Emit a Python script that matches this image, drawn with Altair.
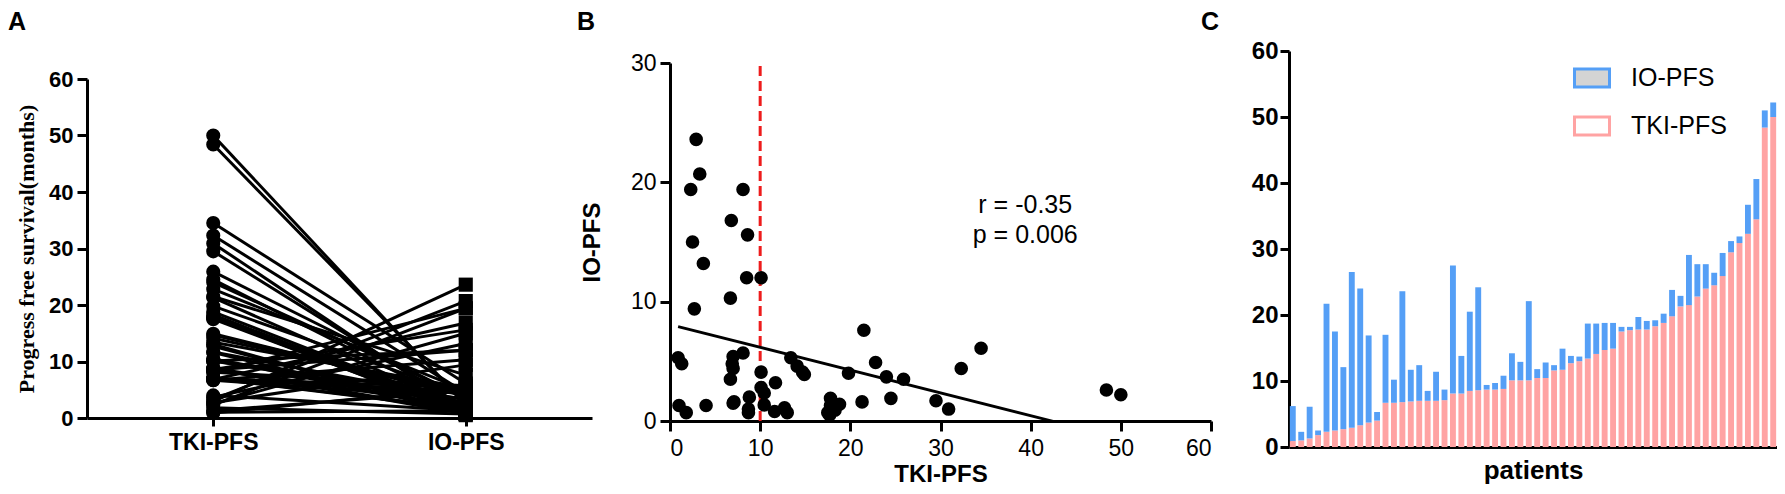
import altair as alt
import pandas as pd

# ---------------- data ----------------
tki_pfs = [0.9, 1.0, 1.3, 1.8, 2.3, 2.5, 2.7, 2.9, 3.3, 3.7, 4.0,
           6.7, 6.7, 6.8, 6.9, 7.0, 7.0, 7.0, 7.1,
           8.1, 8.1, 8.5, 8.6, 8.7, 8.7, 8.8,
           10.1, 10.1, 10.1, 10.45, 10.45, 11.6, 11.7, 12.7, 13.0,
           13.4, 14.1, 14.7, 14.9, 17.5, 17.7, 17.8, 17.8, 18.3, 18.8,
           19.8, 21.3, 21.5, 22.8, 24.0, 24.5, 25.9,
           29.5, 30.9, 32.3, 34.5, 48.4, 50.0]
io_pfs = [5.3, 1.3, 4.8, 0.7, 19.4, 15.0, 9.4, 23.6, 20.7, 13.2, 1.3,
          10.3, 3.5, 16.8, 4.8, 5.4, 1.5, 4.4, 1.6,
          19.4, 5.7, 12.0, 15.6, 0.7, 1.0, 2.0,
          4.1, 2.8, 12.0, 1.35, 2.35, 0.8, 3.2, 1.1, 0.7,
          5.3, 4.6, 4.1, 3.9, 0.7, 0.5, 1.9, 1.3, 0.9, 1.4,
          4.0, 1.6, 7.6, 4.9, 3.7, 1.9, 3.5,
          1.7, 1.0, 4.4, 6.1, 2.6, 2.2]
conditions = ["TKI-PFS", "IO-PFS"]
series = ["IO-PFS", "TKI-PFS"]
annotations = ["r = -0.35", "p = 0.006"]
threshold = [10]
a_ticks = [0, 10, 20, 30, 40, 50, 60]
b_xticks = [0, 10, 20, 30, 40, 50, 60]
b_yticks = [0, 10, 20, 30]

patient = list(range(1, len(tki_pfs) + 1))
wide = pd.DataFrame({"patient": patient, "tki": tki_pfs, "io": io_pfs})
paired = pd.DataFrame({
    "patient": patient + patient,
    "cond": [conditions[0]] * len(patient) + [conditions[1]] * len(patient),
    "months": tki_pfs + io_pfs,
})
stacked = pd.DataFrame({
    "patient": patient + patient,
    "series": [series[1]] * len(patient) + [series[0]] * len(patient),
    "start": [0.0] * len(patient) + tki_pfs,
    "end": tki_pfs + [t + i for t, i in zip(tki_pfs, io_pfs)],
})
cut_df = pd.DataFrame({"cut": threshold})
one_row = pd.DataFrame({"k": [0]})

SANS = "Liberation Sans"
SERIF = "Liberation Serif"
BLUE = "#559ff6"
PINK = "#ffa3a3"

def panel_title(letter, dx, offset):
    return alt.TitleParams(letter, anchor="start", frame="group", dx=dx, offset=offset,
                           font=SANS, fontSize=25, fontWeight="bold", color="black")

# ---------------- Panel A ----------------
A_W, A_H = 505, 367
xA = alt.X("cond:N", sort=conditions,
           scale=alt.Scale(type="point", padding=0.5, domain=conditions),
           axis=alt.Axis(title=None, labelAngle=0, labelFont=SANS, labelFontSize=23,
                         labelFontWeight="bold", labelColor="black", labelPadding=5,
                         domainColor="black", domainWidth=3, tickColor="black",
                         tickWidth=3, tickSize=8, grid=False))
yA = alt.Y("months:Q",
           scale=alt.Scale(domain=[0, 60], range=[A_H, 28], nice=False),
           axis=alt.Axis(values=a_ticks, title="Progress free survival(months)",
                         titleFont=SERIF, titleFontSize=22, titleFontWeight="bold",
                         titleColor="black", titlePadding=10,
                         labelFont=SANS, labelFontSize=22, labelFontWeight="bold",
                         labelColor="black", labelPadding=4,
                         domainColor="black", domainWidth=3, tickColor="black",
                         tickWidth=3, tickSize=10, grid=False))
a_lines = alt.Chart(paired).mark_line(color="black", strokeWidth=3).encode(
    x=xA, y=yA, detail="patient:N")
a_points = alt.Chart(paired).mark_point(filled=True, color="black", opacity=1, size=200).encode(
    x=xA, y=yA,
    shape=alt.Shape("cond:N", scale=alt.Scale(domain=conditions, range=["circle", "square"]),
                    legend=None))
panelA = alt.layer(a_lines, a_points).properties(
    width=A_W, height=A_H, title=panel_title("A", -79, 16))

# ---------------- Panel B ----------------
B_W, B_H = 541, 370
xB = alt.X("tki:Q", scale=alt.Scale(domain=[0, 60], nice=False),
           axis=alt.Axis(values=b_xticks, title="TKI-PFS", titleFont=SANS, titleFontSize=24,
                         titleFontWeight="bold", titleColor="black", titlePadding=2,
                         labelFont=SANS, labelFontSize=23, labelColor="black", labelPadding=6,
                         domainColor="black", domainWidth=3, tickColor="black",
                         tickWidth=3, tickSize=10, grid=False))
yB = alt.Y("io:Q", scale=alt.Scale(domain=[0, 30], range=[B_H, 12], nice=False),
           axis=alt.Axis(values=b_yticks, title="IO-PFS", titleFont=SANS, titleFontSize=24,
                         titleFontWeight="bold", titleColor="black", titlePadding=26,
                         labelFont=SANS, labelFontSize=23, labelColor="black", labelPadding=4,
                         domainColor="black", domainWidth=3, tickColor="black",
                         tickWidth=3, tickSize=10, grid=False))
b_points = alt.Chart(wide).mark_circle(color="black", opacity=1, size=185).encode(x=xB, y=yB)
b_fit = alt.Chart(wide).transform_regression(
    "tki", "io", extent=[min(tki_pfs), max(tki_pfs)]
).mark_line(color="black", strokeWidth=2.8, clip=True).encode(x=xB, y=yB)
b_cut = alt.Chart(cut_df).mark_rule(color="#ee1c1c", strokeWidth=3, strokeDash=[10, 5]).encode(
    x=alt.X("cut:Q"), y=alt.datum(0), y2=alt.datum(30))
b_r = alt.Chart(one_row).mark_text(font=SANS, fontSize=25, color="black", align="center",
                                   baseline="middle").encode(
    x=alt.datum(39.4), y=alt.datum(18.1), text=alt.value(annotations[0]))
b_p = alt.Chart(one_row).mark_text(font=SANS, fontSize=25, color="black", align="center",
                                   baseline="middle").encode(
    x=alt.datum(39.4), y=alt.datum(15.6), text=alt.value(annotations[1]))
panelB = alt.layer(b_cut, b_fit, b_points, b_r, b_p).properties(
    width=B_W, height=B_H, title=panel_title("B", -93, 16))

# ---------------- Panel C ----------------
C_W, C_H = 488, 396
xC = alt.X("patient:O", scale=alt.Scale(paddingInner=0.3, paddingOuter=0.1),
           axis=alt.Axis(labels=False, ticks=False, title="patients", titleFont=SANS,
                         titleFontSize=26, titleFontWeight="bold", titleColor="black",
                         titlePadding=10, domainColor="black", domainWidth=3, grid=False))
yC = alt.Y("start:Q", scale=alt.Scale(domain=[0, 60], nice=False),
           axis=alt.Axis(values=a_ticks, title=None, labelFont=SANS, labelFontSize=24,
                         labelFontWeight="bold", labelColor="black", labelPadding=2,
                         domainColor="black", domainWidth=3, tickColor="black",
                         tickWidth=3, tickSize=9, grid=False))
legend_kw = dict(title=None, orient="none", legendX=284, legendY=8, padding=0,
                 symbolType="M-1,-0.51H1V0.51H-1Z", symbolSize=1225,
                 symbolStrokeWidth=3, symbolFillColor="#ffffff",
                 labelFont=SANS, labelFontSize=25, labelColor="black",
                 labelOffset=20, rowPadding=14)
c_legend = alt.Chart(stacked).transform_filter("false").mark_bar(strokeWidth=3).encode(
    x=xC, y=yC, y2="end:Q",
    fill=alt.Fill("series:N", scale=alt.Scale(domain=series, range=["#d4d4d4", "#ffffff"]),
                  legend=alt.Legend(**legend_kw)),
    stroke=alt.Stroke("series:N", scale=alt.Scale(domain=series, range=[BLUE, PINK]),
                      legend=alt.Legend(**legend_kw)))
c_bars = alt.Chart(stacked).mark_bar().encode(
    x=xC, y=yC, y2="end:Q",
    color=alt.Color("series:N", scale=alt.Scale(domain=series, range=[BLUE, PINK]), legend=None))
panelC = alt.layer(c_legend, c_bars).properties(
    width=C_W, height=C_H, title=panel_title("C", -88, 4))

chart = alt.hconcat(panelA, panelB, panelC, spacing=78, bounds="flush").resolve_scale(
    color="independent", fill="independent", stroke="independent", shape="independent"
).resolve_legend(
    color="independent", fill="independent", stroke="independent", shape="independent"
).configure_view(
    stroke=None
).properties(
    padding={"left": 0, "top": 2, "right": 0, "bottom": 0},
    background="white",
)

chart.save("out.html", embed_options={"renderer": "svg", "actions": False})
